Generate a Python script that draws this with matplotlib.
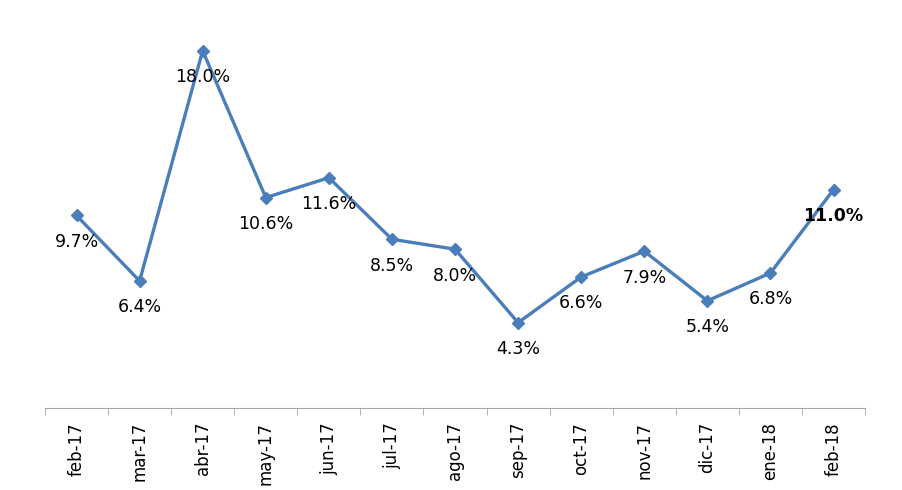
import matplotlib
matplotlib.use("Agg")
import matplotlib.pyplot as plt
import numpy as np

months = ["feb-17", "mar-17", "abr-17", "may-17", "jun-17", "jul-17", "ago-17",
          "sep-17", "oct-17", "nov-17", "dic-17", "ene-18", "feb-18"]
values = [9.7, 6.4, 18.0, 10.6, 11.6, 8.5, 8.0, 4.3, 6.6, 7.9, 5.4, 6.8, 11.0]

LINE = "#4a7ebb"
GRID = "#a6a6a6"

fig = plt.figure(figsize=(9.03, 4.9), dpi=100)
ax = fig.add_axes([0.0498, 0.1673, 0.9082, 0.8103])

x = np.arange(len(months))
ax.plot(x, values, "-", color=LINE, lw=2.4, marker="D", ms=6, mfc=LINE, mec=LINE, zorder=3)

for i, v in enumerate(values):
    last = i == len(values) - 1
    ax.annotate(f"{v:.1f}%", (i, v), xytext=(0, -19), textcoords="offset points",
                ha="center", va="center", fontsize=12.5, color="black",
                fontweight="bold" if last else "normal", zorder=4)

ax.set_xlim(-0.5, len(months) - 0.5)
ax.set_ylim(0, 20)
for s in ["top", "right", "left"]:
    ax.spines[s].set_visible(False)
ax.spines["bottom"].set_color(GRID)
ax.set_yticks([])

ax.set_xticks(x)
ax.set_xticklabels(months, rotation=90, fontsize=12)
ax.tick_params(axis="x", which="major", length=0, pad=10)
ax.set_xticks(np.arange(-0.5, len(months)), minor=True)
ax.tick_params(axis="x", which="minor", length=5, color=GRID, direction="out")

fig.savefig("out.png", dpi=100)
